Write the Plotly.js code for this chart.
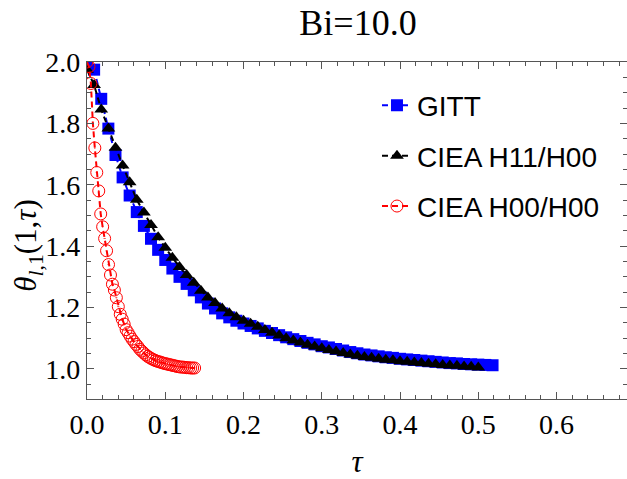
<!DOCTYPE html>
<html>
<head>
<meta charset="utf-8">
<script src="https://cdn.plot.ly/plotly-3.0.1.min.js"></script>
<style>html,body{margin:0;padding:0;background:#fff;}#chart{width:627px;height:479px;}</style>
</head>
<body>
<div id="chart"></div>
<script>
// tau grid shared by GITT and CIEA H11/H00
const tauGITT = [0, 0.0091, 0.0182, 0.0273, 0.0364, 0.0455, 0.0545, 0.0636, 0.0727, 0.0818,
  0.0909, 0.1, 0.1091, 0.1182, 0.1273, 0.1364, 0.1455, 0.1545, 0.1636, 0.1727,
  0.1818, 0.1909, 0.2, 0.2091, 0.2182, 0.2273, 0.2364, 0.2455, 0.2545, 0.2636,
  0.2727, 0.2818, 0.2909, 0.3, 0.3091, 0.3182, 0.3273, 0.3364, 0.3455, 0.3545,
  0.3636, 0.3727, 0.3818, 0.3909, 0.4, 0.4091, 0.4182, 0.4273, 0.4364, 0.4455,
  0.4545, 0.4636, 0.4727, 0.4818, 0.4909, 0.5, 0.5091, 0.5182];
const thetaGITT = [2.0, 1.975, 1.88, 1.783, 1.697, 1.624, 1.565, 1.511, 1.466, 1.424,
  1.388, 1.355, 1.327, 1.300, 1.277, 1.256, 1.233, 1.213, 1.197, 1.181,
  1.168, 1.157, 1.148, 1.140, 1.132, 1.124, 1.117, 1.110, 1.103, 1.097,
  1.091, 1.085, 1.080, 1.074, 1.070, 1.065, 1.060, 1.055, 1.051, 1.047,
  1.044, 1.041, 1.038, 1.036, 1.033, 1.031, 1.029, 1.027, 1.025, 1.023,
  1.021, 1.019, 1.018, 1.016, 1.015, 1.014, 1.013, 1.012];

const tauH11 = [0, 0.0091, 0.0182, 0.0273, 0.0364, 0.0455, 0.0545, 0.0636, 0.0727, 0.0818,
  0.0909, 0.1, 0.1091, 0.1182, 0.1273, 0.1364, 0.1455, 0.1545, 0.1636, 0.1727,
  0.1818, 0.1909, 0.2, 0.2091, 0.2182, 0.2273, 0.2364, 0.2455, 0.2545, 0.2636,
  0.2727, 0.2818, 0.2909, 0.3, 0.3091, 0.3182, 0.3273, 0.3364, 0.3455, 0.3545,
  0.3636, 0.3727, 0.3818, 0.3909, 0.4, 0.4091, 0.4182, 0.4273, 0.4364, 0.4455,
  0.4545, 0.4636, 0.4727, 0.4818, 0.4909, 0.5];
const thetaH11 = [1.975, 1.925, 1.845, 1.783, 1.721, 1.663, 1.608, 1.551, 1.510, 1.469,
  1.429, 1.395, 1.362, 1.332, 1.306, 1.281, 1.255, 1.233, 1.215, 1.197,
  1.181, 1.168, 1.157, 1.147, 1.137, 1.127, 1.118, 1.109, 1.100, 1.093,
  1.086, 1.079, 1.073, 1.067, 1.062, 1.057, 1.052, 1.047, 1.043, 1.039,
  1.036, 1.033, 1.030, 1.028, 1.025, 1.023, 1.021, 1.019, 1.017, 1.015,
  1.013, 1.011, 1.010, 1.008, 1.007, 1.005];

const tauH00 = [0, 0.0025, 0.005, 0.0075, 0.01, 0.0125, 0.015, 0.0175, 0.02, 0.0225,
  0.025, 0.0275, 0.03, 0.0325, 0.035, 0.0375, 0.04, 0.0425, 0.045, 0.0475,
  0.05, 0.0525, 0.055, 0.0575, 0.06, 0.0625, 0.065, 0.0675, 0.07, 0.0725,
  0.075, 0.0775, 0.08, 0.0825, 0.085, 0.0875, 0.09, 0.0925, 0.095, 0.0975,
  0.1, 0.1025, 0.105, 0.1075, 0.11, 0.1125, 0.115, 0.1175, 0.12, 0.1225,
  0.125, 0.1275, 0.13, 0.1325, 0.135, 0.1375];
const thetaH00 = [2.0, 1.985, 1.93, 1.80, 1.72, 1.64, 1.58, 1.505, 1.463, 1.425,
  1.385, 1.34, 1.306, 1.276, 1.257, 1.232, 1.203, 1.178, 1.162, 1.146,
  1.128, 1.118, 1.107, 1.097, 1.089, 1.080, 1.073, 1.064, 1.058, 1.052,
  1.046, 1.041, 1.037, 1.033, 1.030, 1.027, 1.025, 1.023, 1.021, 1.019,
  1.017, 1.016, 1.014, 1.013, 1.011, 1.010, 1.008, 1.007, 1.006, 1.006,
  1.005, 1.004, 1.004, 1.003, 1.003, 1.003];

const seriesNames = ['GITT', 'CIEA H11/H00', 'CIEA H00/H00'];
const xTickVals = [0, 0.1, 0.2, 0.3, 0.4, 0.5, 0.6];
const xTickText = ['0.0', '0.1', '0.2', '0.3', '0.4', '0.5', '0.6'];
const yTickVals = [1.0, 1.2, 1.4, 1.6, 1.8, 2.0];
const yTickText = ['1.0', '1.2', '1.4', '1.6', '1.8', '2.0'];
const yTitle = '<i>θ</i><sub><i>l</i>,1</sub>(1,<i>τ</i>)';

const dashPat = '6px,4px';
const traces = [
  {x: tauGITT, y: thetaGITT, name: seriesNames[0], legendgroup: 'a', type: 'scatter', mode: 'lines+markers',
   line: {color: 'rgb(0,0,255)', width: 2, dash: dashPat},
   marker: {symbol: 'square', size: 12, color: 'rgb(0,0,255)'}},
  {x: tauH11, y: thetaH11, name: seriesNames[1], legendgroup: 'b', type: 'scatter', mode: 'lines+markers',
   line: {color: 'black', width: 2, dash: dashPat},
   marker: {symbol: 'triangle-up', size: 12, color: 'black'}},
  {x: tauH00, y: thetaH00, name: seriesNames[2], legendgroup: 'c', type: 'scatter', mode: 'lines+markers',
   line: {color: 'rgb(255,0,0)', width: 2, dash: dashPat},
   marker: {symbol: 'circle-open-dot', size: 12, color: 'rgb(255,0,0)', line: {width: 1, color: 'rgb(255,0,0)'}}}
];

const serif = 'Liberation Serif, Times New Roman, serif';
const axisCommon = {
  showgrid: false, zeroline: false, showline: true, linecolor: '#555', linewidth: 1.2,
  mirror: 'ticks', ticks: 'inside', ticklen: 7, tickwidth: 1, tickcolor: '#555',
  tickfont: {family: serif, size: 28, color: 'black'}
};

const layout = {
  width: 627, height: 479,
  margin: {l: 87, r: 0, t: 62, b: 80, pad: 0},
  paper_bgcolor: 'white', plot_bgcolor: 'white',
  title: {text: 'Bi=10.0', x: 0.571, xanchor: 'center', y: 0.953, yanchor: 'middle', xref: 'container', yref: 'container',
          font: {family: serif, size: 36, color: 'black'}},
  xaxis: Object.assign({}, axisCommon, {
    range: [0, 0.69], tickvals: xTickVals, ticktext: xTickText,
    minor: {dtick: 0.02, tick0: 0, ticks: 'inside', ticklen: 4, tickcolor: '#555', showgrid: false},
    title: {text: '<i>τ</i>', standoff: 12, font: {family: serif, size: 31, color: 'black'}}
  }),
  yaxis: Object.assign({}, axisCommon, {
    range: [0.902, 2.0], tickvals: yTickVals, ticktext: yTickText,
    minor: {dtick: 0.05, tick0: 0, ticks: 'inside', ticklen: 4, tickcolor: '#555', showgrid: false}
  }),
  annotations: [{
    text: yTitle, xref: 'paper', yref: 'paper', x: -0.109, y: 0.455,
    xanchor: 'center', yanchor: 'middle', textangle: -90, showarrow: false,
    font: {family: serif, size: 31, color: 'black'}
  }],
  showlegend: true,
  legend: {x: 0.537, y: 0.945, xanchor: 'left', yanchor: 'top', bgcolor: 'rgba(0,0,0,0)',
           font: {family: 'Liberation Sans, Arial, sans-serif', size: 28, color: 'black'},
           traceorder: 'grouped', tracegroupgap: 11, itemwidth: 30}
};

Plotly.newPlot('chart', traces, layout, {displayModeBar: false, staticPlot: true});
</script>
</body>
</html>
